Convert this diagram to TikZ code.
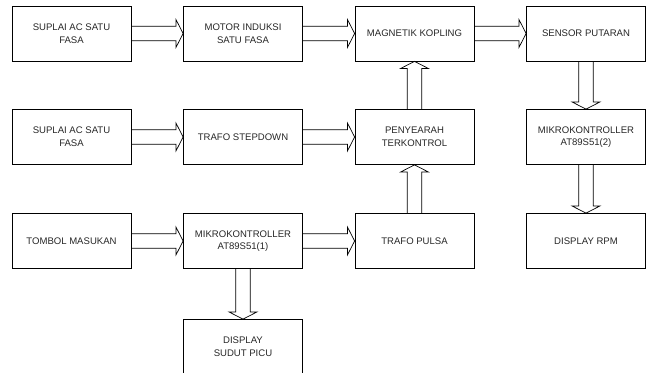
\documentclass[tikz,border=0pt]{standalone}
\usepackage{fontspec}
\setmainfont{Liberation Sans}
\usetikzlibrary{calc}
\def\sw{0.18cm}
\def\hw{0.35cm}
\def\hl{0.18cm}
\newcommand{\fatright}[2]{%
  \draw[fat] ($(#1.east)+(0,\sw)$) -- ($(#2.west)+(-\hl,\sw)$) -- ($(#2.west)+(-\hl,\hw)$)
    -- (#2.west) -- ($(#2.west)+(-\hl,-\hw)$) -- ($(#2.west)+(-\hl,-\sw)$) -- ($(#1.east)+(0,-\sw)$);}
\newcommand{\fatup}[2]{%
  \draw[fat] ($(#1.north)+(-\sw,0)$) -- ($(#2.south)+(-\sw,-\hl)$) -- ($(#2.south)+(-\hw,-\hl)$)
    -- (#2.south) -- ($(#2.south)+(\hw,-\hl)$) -- ($(#2.south)+(\sw,-\hl)$) -- ($(#1.north)+(\sw,0)$);}
\newcommand{\fatdown}[2]{%
  \draw[fat] ($(#1.south)+(-\sw,0)$) -- ($(#2.north)+(-\sw,\hl)$) -- ($(#2.north)+(-\hw,\hl)$)
    -- (#2.north) -- ($(#2.north)+(\hw,\hl)$) -- ($(#2.north)+(\sw,\hl)$) -- ($(#1.south)+(\sw,0)$);}
\begin{document}
\begin{tikzpicture}[
  x=0.025cm,y=0.025cm,
  block/.style={draw,line width=0.5pt,minimum width=2.975cm,minimum height=1.375cm,
    inner sep=0pt,align=center,text=black!85,font=\fontsize{6.8}{9}\selectfont},
  fat/.style={draw,line width=0.5pt,line join=miter}
]
  \useasboundingbox (0,0) rectangle (648,-373);
  % row 1
  \node[block] (supA)    at (71.5,-33.5) {SUPLAI AC SATU\\FASA};
  \node[block] (motor)   at (243,-33.5)  {MOTOR INDUKSI\\SATU FASA};
  \node[block] (kopling) at (414.5,-33.5) {MAGNETIK KOPLING};
  \node[block] (sensor)  at (586,-33.5)  {SENSOR PUTARAN};
  % row 2
  \node[block] (supB)      at (71.5,-137) {SUPLAI AC SATU\\FASA};
  \node[block] (stepdown)  at (243,-137)  {TRAFO STEPDOWN};
  \node[block] (penyearah) at (414.5,-137) {PENYEARAH\\TERKONTROL};
  \node[block] (mikroB)    at (586,-137)  {MIKROKONTROLLER\\AT89S51(2)};
  % row 3
  \node[block] (tombol) at (71.5,-241) {TOMBOL MASUKAN};
  \node[block] (mikroA) at (243,-241)  {MIKROKONTROLLER\\AT89S51(1)};
  \node[block] (pulsa)  at (414.5,-241) {TRAFO PULSA};
  \node[block] (rpm)    at (586,-241)  {DISPLAY RPM};
  % row 4 (bottom edge runs off the page)
  \node[block] (picu) at (243,-347) {DISPLAY\\SUDUT PICU};
  % arrows
  \fatright{supA}{motor}
  \fatright{motor}{kopling}
  \fatright{kopling}{sensor}
  \fatright{supB}{stepdown}
  \fatright{stepdown}{penyearah}
  \fatright{tombol}{mikroA}
  \fatright{mikroA}{pulsa}
  \fatup{penyearah}{kopling}
  \fatup{pulsa}{penyearah}
  \fatdown{sensor}{mikroB}
  \fatdown{mikroB}{rpm}
  \fatdown{mikroA}{picu}
\end{tikzpicture}
\end{document}
